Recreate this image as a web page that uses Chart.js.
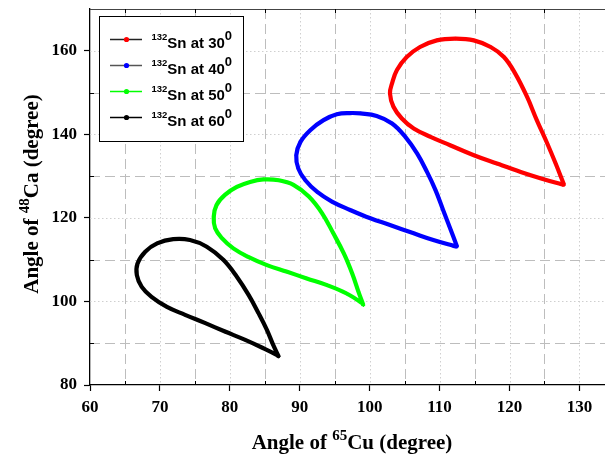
<!DOCTYPE html>
<html>
<head>
<meta charset="utf-8">
<script src="https://cdn.jsdelivr.net/npm/chart.js@4/dist/chart.umd.min.js"></script>
<style>
  html, body { margin: 0; padding: 0; background: #fff; overflow: hidden; }
  #wrap { width: 605px; height: 469px; position: relative; overflow: hidden; }
  canvas { display: block; }
</style>
</head>
<body>
<div id="wrap"><canvas id="c" width="610" height="469"></canvas></div>
<script>
// Kinematic loci: angle of 65Cu vs angle of 48Ca for several 132Sn angles
const snAngles = [30, 40, 50, 60];

const sn30X = [127.8,126.6,125.4,123.9,122.5,120.8,119.2,117.3,114.9,112.3,109.6,107.2,105.3,103.9,103.2,102.9,103.4,104.6,106.3,108.7,111.5,114.9,118.2,121.6,124.4,127.3,127.8];
const sn30Y = [127.9,133.0,137.8,143.4,149.0,154.6,158.5,160.9,162.5,162.9,162.5,160.9,158.5,155.4,152.2,149.8,146.6,143.8,141.4,139.4,137.4,135.0,133.0,131.0,129.5,128.1,127.9];

const sn40X = [112.5,111.6,110.5,109.4,108.2,106.8,105.1,103.2,101.0,98.7,97.2,95.3,93.4,91.5,90.1,89.5,89.8,90.8,92.5,94.6,97.2,100.1,102.9,106.3,109.1,112.0,112.5];
const sn40Y = [113.1,117.1,121.9,126.7,131.0,135.4,139.4,142.6,144.4,145.0,145.1,144.8,143.4,141.0,138.2,135.0,131.8,129.0,126.2,123.9,121.9,119.9,118.3,116.3,114.7,113.3,113.1];

const sn50X = [99.1,98.4,97.5,96.3,94.8,93.2,91.3,89.1,87.0,84.8,82.9,81.0,79.3,78.1,77.7,77.9,78.9,80.5,82.7,85.3,88.2,91.0,93.9,96.7,98.9,99.1];
const sn50Y = [99.1,102.3,106.7,111.5,116.3,121.1,125.1,127.9,129.0,129.2,128.6,127.4,125.5,123.1,120.3,117.5,115.1,112.7,110.6,108.7,107.1,105.5,103.9,101.9,99.6,99.1];

const sn60X = [87.0,86.2,85.3,84.1,82.7,81.0,79.1,76.7,74.3,71.9,69.6,67.9,66.8,66.7,67.4,68.8,71.0,73.6,76.5,79.3,82.2,84.8,86.7,87.0];
const sn60Y = [86.8,89.6,93.2,97.2,101.5,105.9,109.9,113.1,114.7,114.9,113.9,111.9,109.1,106.3,103.5,101.1,98.7,96.8,94.8,92.8,90.8,88.8,87.2,86.8];

// Axis ticks
const xTickValues = [60, 70, 80, 90, 100, 110, 120, 130];
const yTickValues = [80, 100, 120, 140, 160];
const xMinorValues = [65, 75, 85, 95, 105, 115, 125];
const yMinorValues = [90, 110, 130, 150];
const xMajorGrid = [70, 80, 90, 100, 110, 120, 130];
const yMajorGrid = [100, 120, 140, 160];

const seriesColors = ['#ff0000', '#0000ff', '#00ff00', '#000000'];
const legendLineColors = ['#222222', '#555555', '#00ff00', '#000000'];

const seriesXs = [sn30X, sn40X, sn50X, sn60X];
const seriesYs = [sn30Y, sn40Y, sn50Y, sn60Y];

const datasets = snAngles.map((a, i) => ({
  label: '132Sn at ' + a,
  data: seriesXs[i].map((x, k) => ({ x: x, y: seriesYs[i][k] })),
  showLine: true,
  borderColor: seriesColors[i],
  backgroundColor: seriesColors[i],
  borderWidth: 4.2,
  pointRadius: 1.9,
  pointStyle: 'rectRot',
  pointBorderWidth: 0,
  tension: 0.4,
  fill: false
}));

const SERIF = '"Liberation Serif", "Times New Roman", serif';
const SANS = '"Liberation Sans", Arial, sans-serif';

function drawRich(ctx, parts, x, y, family, align) {
  let total = 0;
  parts.forEach(p => {
    ctx.font = 'bold ' + p.s + 'px ' + family;
    p.w = ctx.measureText(p.t).width;
    total += p.w;
  });
  let cx = align === 'center' ? x - total / 2 : x;
  ctx.textAlign = 'left';
  ctx.textBaseline = 'alphabetic';
  parts.forEach(p => {
    ctx.font = 'bold ' + p.s + 'px ' + family;
    ctx.fillText(p.t, cx, y + (p.dy || 0));
    cx += p.w;
  });
  return cx;
}

// Dashed minor grid + dotted major grid under the curves
const gridPlugin = {
  id: 'plotGrid',
  beforeDatasetsDraw(chart) {
    const { ctx, chartArea: ca, scales } = chart;
    const xs = scales.x, ys = scales.y;
    ctx.save();
    ctx.beginPath();
    ctx.rect(ca.left, ca.top, ca.right - ca.left, ca.bottom - ca.top);
    ctx.clip();
    ctx.lineWidth = 1;
    const vline = (v) => {
      const px = Math.round(xs.getPixelForValue(v)) + 0.5;
      ctx.beginPath(); ctx.moveTo(px, ca.top); ctx.lineTo(px, ca.bottom); ctx.stroke();
    };
    const hline = (v) => {
      const py = Math.round(ys.getPixelForValue(v)) + 0.5;
      ctx.beginPath(); ctx.moveTo(ca.left, py); ctx.lineTo(ca.right, py); ctx.stroke();
    };
    // minor: dashed
    ctx.strokeStyle = '#bdbdbd';
    ctx.setLineDash([10, 5]);
    xMinorValues.forEach(vline);
    yMinorValues.forEach(hline);
    // major: dotted
    ctx.strokeStyle = '#cfcfcf';
    ctx.setLineDash([1.5, 2.5]);
    xMajorGrid.forEach(vline);
    yMajorGrid.forEach(hline);
    ctx.restore();
  }
};

const decorPlugin = {
  id: 'decor',
  afterDraw(chart) {
    const { ctx, chartArea: ca, scales } = chart;
    const xs = scales.x, ys = scales.y;
    ctx.save();

    // top frame line
    ctx.strokeStyle = '#444';
    ctx.lineWidth = 1.2;
    ctx.beginPath();
    ctx.moveTo(ca.left, ca.top + 0.5);
    ctx.lineTo(ca.right, ca.top + 0.5);
    ctx.stroke();

    // minor ticks pointing inward
    ctx.strokeStyle = '#000';
    ctx.lineWidth = 1;
    xMinorValues.forEach(v => {
      const px = Math.round(xs.getPixelForValue(v)) + 0.5;
      ctx.beginPath(); ctx.moveTo(px, ca.bottom); ctx.lineTo(px, ca.bottom - 4); ctx.stroke();
      ctx.beginPath(); ctx.moveTo(px, ca.top); ctx.lineTo(px, ca.top + 4); ctx.stroke();
    });
    yMinorValues.forEach(v => {
      const py = Math.round(ys.getPixelForValue(v)) + 0.5;
      ctx.beginPath(); ctx.moveTo(ca.left, py); ctx.lineTo(ca.left + 4, py); ctx.stroke();
    });

    // legend box
    const bx = 99.5, by = 16.5, bw = 144, bh = 125;
    ctx.fillStyle = '#fff';
    ctx.fillRect(bx, by, bw, bh);
    ctx.strokeStyle = '#000';
    ctx.lineWidth = 1;
    ctx.strokeRect(bx, by, bw, bh);
    snAngles.forEach((a, i) => {
      const ly = 39.5 + i * 26;
      ctx.strokeStyle = legendLineColors[i];
      ctx.lineWidth = 1.5;
      ctx.beginPath(); ctx.moveTo(110, ly); ctx.lineTo(142, ly); ctx.stroke();
      ctx.fillStyle = seriesColors[i];
      ctx.beginPath(); ctx.arc(126.5, ly, 2.6, 0, Math.PI * 2); ctx.fill();
      ctx.fillStyle = '#000';
      drawRich(ctx, [
        { t: '132', s: 9.5, dy: -8.5 },
        { t: 'Sn at ' + a, s: 15 },
        { t: '0', s: 13, dy: -8 }
      ], 151.5, ly + 8.5, SANS, 'left');
    });

    // axis titles
    ctx.fillStyle = '#000';
    drawRich(ctx, [
      { t: 'Angle of ', s: 21 },
      { t: '65', s: 15, dy: -9.5 },
      { t: 'Cu (degree)', s: 21 }
    ], 352, 449, SERIF, 'center');

    ctx.save();
    ctx.translate(38, 194);
    ctx.rotate(-Math.PI / 2);
    drawRich(ctx, [
      { t: 'Angle of ', s: 21 },
      { t: '48', s: 15, dy: -9.5 },
      { t: 'Ca (degree)', s: 21 }
    ], 0, 0, SERIF, 'center');
    ctx.restore();

    ctx.restore();
  }
};

const tickFont = { family: SERIF, size: 17, weight: 'bold' };

new Chart(document.getElementById('c'), {
  type: 'scatter',
  data: { datasets: datasets },
  options: {
    responsive: false,
    animation: false,
    layout: { padding: { top: 9, right: 0, left: 0, bottom: 0 } },
    plugins: { legend: { display: false }, tooltip: { enabled: false } },
    scales: {
      x: {
        type: 'linear',
        min: 60,
        max: 133.8,
        afterBuildTicks: s => { s.ticks = xTickValues.map(v => ({ value: v })); },
        afterFit: s => { s.height = 84; s.paddingLeft = 0; s.paddingRight = 0; },
        ticks: { font: tickFont, color: '#000', padding: 6, includeBounds: false, maxRotation: 0 },
        grid: { display: true, drawOnChartArea: false, drawTicks: true, tickLength: 6, tickColor: '#000', tickWidth: 1.2 },
        border: { display: true, color: '#000', width: 1.3 }
      },
      y: {
        type: 'linear',
        min: 80,
        max: 170,
        afterBuildTicks: s => { s.ticks = yTickValues.map(v => ({ value: v })); },
        afterFit: s => { s.width = 90; s.paddingTop = 0; s.paddingBottom = 0; },
        ticks: { font: tickFont, color: '#000', padding: 7, includeBounds: false },
        grid: { display: true, drawOnChartArea: false, drawTicks: true, tickLength: 6, tickColor: '#000', tickWidth: 1.2 },
        border: { display: true, color: '#000', width: 1.3 }
      }
    }
  },
  plugins: [gridPlugin, decorPlugin]
});
</script>
</body>
</html>
